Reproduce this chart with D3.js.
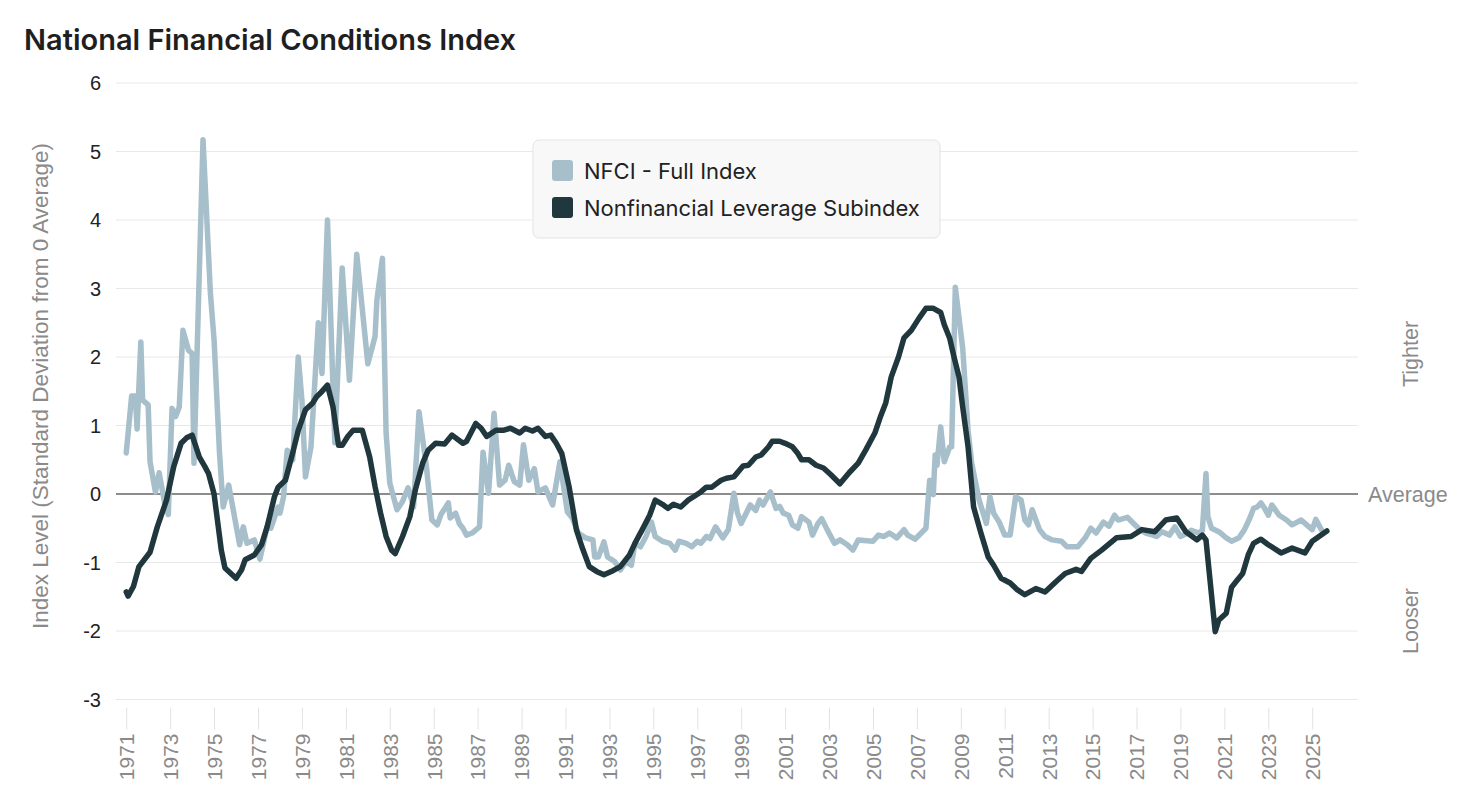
<!DOCTYPE html>
<html>
<head>
<meta charset="utf-8">
<script src="https://cdn.jsdelivr.net/npm/d3@7"></script>
<style>
  body { margin: 0; background: #fff; }
  svg { font-family: Inter, "Noto Sans", sans-serif; }
  .ax { font-family: "Liberation Sans", Arial, sans-serif; }
</style>
</head>
<body>
<svg id="chart" width="1474" height="806"></svg>
<script>
// NFCI - full index (month, value)
var nfciMonths = ["1971-01","1971-04","1971-06","1971-07","1971-09","1971-10","1972-01","1972-02","1972-05","1972-07","1972-10","1972-12",
  "1973-02","1973-04","1973-06","1973-08","1973-11","1974-01","1974-02","1974-07","1974-11","1975-01","1975-04","1975-06","1975-09",
  "1976-03","1976-05","1976-07","1976-11","1977-02","1977-06","1977-08","1977-12","1978-01","1978-03","1978-05","1978-08","1978-11",
  "1979-01","1979-03","1979-06","1979-10","1979-12","1980-03","1980-07","1980-11","1981-03","1981-07","1982-01","1982-05","1982-06",
  "1982-09","1982-11","1983-01","1983-05","1983-08","1983-11","1984-02","1984-05","1984-09","1984-12","1985-03","1985-05","1985-09",
  "1985-10","1986-01","1986-03","1986-05","1986-07","1986-10","1987-02","1987-04","1987-07","1987-10","1988-01","1988-04","1988-06",
  "1988-09","1988-12","1989-02","1989-05","1989-08","1989-10","1990-02","1990-06","1990-10","1991-02","1991-05","1991-08","1991-12",
  "1992-04","1992-05","1992-07","1992-10","1992-12","1993-04","1993-07","1993-10","1994-01","1994-03","1994-06","1994-09","1994-12",
  "1995-02","1995-06","1995-10","1996-01","1996-03","1996-07","1996-10","1997-01","1997-03","1997-06","1997-08","1997-11","1998-03",
  "1998-06","1998-09","1998-11","1999-01","1999-06","1999-09","1999-11","2000-01","2000-05","2000-08","2000-10","2000-12","2001-03",
  "2001-05","2001-08","2001-10","2002-02","2002-04","2002-07","2002-09","2002-12","2003-04","2003-07","2003-11","2004-02","2004-05",
  "2005-01","2005-04","2005-07","2005-10","2006-02","2006-06","2006-08","2006-12","2007-06","2007-08","2007-10","2007-11","2007-12",
  "2008-02","2008-04","2008-07","2008-08","2008-10","2009-02","2009-05","2009-07","2009-11","2010-03","2010-05","2010-07","2010-10",
  "2011-01","2011-04","2011-07","2011-10","2011-12","2012-02","2012-04","2012-08","2012-11","2013-03","2013-08","2013-11","2014-05",
  "2014-09","2014-12","2015-03","2015-07","2015-10","2016-01","2016-03","2016-08","2016-11","2017-02","2017-06","2017-10","2017-12",
  "2018-03","2018-07","2018-10","2019-01","2019-05","2019-07","2019-11","2020-01","2020-03","2020-04","2020-06","2020-10","2021-02",
  "2021-05","2021-09","2021-12","2022-03","2022-05","2022-07","2022-09","2022-11","2023-01","2023-03","2023-07","2023-11","2024-02",
  "2024-07","2024-10","2025-01","2025-03","2025-06"];
var nfciValues = [0.60,1.43,1.43,0.95,2.22,1.37,1.30,0.47,0.03,0.31,-0.13,-0.30,
  1.25,1.13,1.27,2.39,2.10,2.05,0.45,5.17,2.93,2.25,0.60,-0.19,0.13,
  -0.74,-0.48,-0.72,-0.67,-0.95,-0.48,-0.50,-0.19,-0.28,-0.04,0.64,0.50,2.00,
  1.37,0.25,0.69,2.50,1.76,4.00,0.75,3.30,1.66,3.50,1.90,2.30,2.83,
  3.44,0.89,0.16,-0.23,-0.11,0.09,-0.19,1.20,0.40,-0.38,-0.45,-0.30,-0.13,
  -0.35,-0.28,-0.43,-0.50,-0.60,-0.57,-0.48,0.61,0.01,1.18,0.13,0.20,0.42,
  0.18,0.13,0.72,0.20,0.37,0.03,0.09,-0.16,0.47,-0.26,-0.36,-0.57,-0.64,
  -0.67,-0.92,-0.92,-0.70,-0.92,-0.99,-1.11,-0.99,-1.04,-0.72,-0.77,-0.62,-0.41,
  -0.62,-0.69,-0.72,-0.82,-0.69,-0.72,-0.77,-0.69,-0.72,-0.62,-0.65,-0.48,-0.64,
  -0.52,0.01,-0.28,-0.43,-0.16,-0.24,-0.09,-0.16,0.03,-0.21,-0.18,-0.28,-0.31,
  -0.45,-0.50,-0.33,-0.41,-0.60,-0.43,-0.36,-0.52,-0.72,-0.67,-0.74,-0.82,-0.67,
  -0.69,-0.60,-0.62,-0.57,-0.64,-0.52,-0.60,-0.66,-0.50,0.20,-0.01,0.57,0.42,
  0.98,0.47,0.69,0.69,3.02,2.13,0.93,0.45,-0.09,-0.43,-0.04,-0.28,-0.41,
  -0.60,-0.60,-0.04,-0.09,-0.38,-0.45,-0.23,-0.52,-0.62,-0.67,-0.69,-0.77,-0.77,
  -0.64,-0.50,-0.57,-0.41,-0.47,-0.31,-0.38,-0.34,-0.42,-0.50,-0.57,-0.60,-0.62,
  -0.55,-0.60,-0.48,-0.62,-0.57,-0.53,-0.57,-0.53,0.30,-0.33,-0.50,-0.55,-0.64,
  -0.69,-0.64,-0.52,-0.35,-0.21,-0.19,-0.13,-0.21,-0.31,-0.16,-0.31,-0.38,-0.45,
  -0.38,-0.45,-0.52,-0.37,-0.52];

// Nonfinancial leverage subindex (month, value)
var levMonths = ["1971-01","1971-02","1971-05","1971-08","1972-02","1972-06","1972-11","1973-03","1973-07","1973-10","1974-01","1974-05",
  "1974-08","1974-10","1975-01","1975-05","1975-07","1976-01","1976-04","1976-06","1976-11","1977-03","1977-06","1977-10","1977-12",
  "1978-04","1978-08","1978-11","1979-03","1979-07","1979-09","1979-11","1980-03","1980-06","1980-09","1980-11","1981-02","1981-05",
  "1981-10","1982-02","1982-05","1982-08","1982-11","1983-02","1983-04","1983-08","1983-12","1984-03","1984-07","1984-10","1985-02",
  "1985-07","1985-11","1986-05","1986-07","1986-12","1987-03","1987-06","1987-11","1988-03","1988-07","1988-12","1989-03","1989-07",
  "1989-10","1990-02","1990-05","1990-08","1990-11","1991-03","1991-07","1991-10","1992-02","1992-06","1992-10","1993-03","1993-07",
  "1993-12","1994-03","1994-07","1994-11","1995-02","1995-06","1995-09","1995-12","1996-04","1996-08","1996-11","1997-03","1997-06",
  "1997-09","1998-02","1998-05","1998-09","1999-02","1999-05","1999-09","1999-12","2000-04","2000-06","2000-10","2001-01","2001-05",
  "2001-08","2001-10","2002-02","2002-06","2002-10","2003-02","2003-07","2003-12","2004-05","2004-09","2005-02","2005-05","2005-08",
  "2005-11","2006-03","2006-06","2006-10","2007-02","2007-06","2007-10","2008-02","2008-04","2008-07","2008-09","2008-12","2009-02",
  "2009-05","2009-08","2009-12","2010-04","2010-07","2010-11","2011-04","2011-08","2011-12","2012-06","2012-11","2013-05","2013-10",
  "2014-04","2014-07","2014-12","2015-06","2016-02","2016-10","2017-04","2017-11","2018-05","2018-11","2019-04","2019-10","2020-01",
  "2020-03","2020-08","2020-10","2021-02","2021-05","2021-08","2021-11","2022-02","2022-05","2022-09","2023-01","2023-08","2024-02",
  "2024-09","2025-01","2025-09"];
var levValues = [-1.43,-1.49,-1.35,-1.06,-0.85,-0.48,-0.09,0.40,0.74,0.82,0.86,0.54,
  0.40,0.30,0.00,-0.82,-1.08,-1.23,-1.11,-0.96,-0.89,-0.74,-0.48,-0.04,0.10,
  0.20,0.60,0.93,1.23,1.33,1.42,1.47,1.59,1.27,0.71,0.71,0.84,0.93,
  0.93,0.54,0.11,-0.28,-0.62,-0.82,-0.87,-0.62,-0.33,0.06,0.45,0.64,0.74,
  0.73,0.86,0.74,0.77,1.03,0.96,0.84,0.93,0.93,0.96,0.89,0.96,0.92,
  0.96,0.84,0.86,0.74,0.59,0.11,-0.52,-0.77,-1.06,-1.13,-1.18,-1.12,-1.06,
  -0.89,-0.72,-0.52,-0.31,-0.09,-0.15,-0.21,-0.15,-0.19,-0.09,-0.04,0.03,0.10,
  0.10,0.20,0.23,0.25,0.41,0.42,0.54,0.57,0.69,0.77,0.77,0.74,0.69,
  0.59,0.50,0.50,0.42,0.38,0.28,0.15,0.31,0.45,0.64,0.89,1.12,1.33,
  1.71,2.00,2.28,2.39,2.56,2.71,2.71,2.65,2.47,2.27,2.03,1.71,1.27,
  0.69,-0.19,-0.57,-0.92,-1.04,-1.23,-1.30,-1.40,-1.47,-1.38,-1.43,-1.28,-1.16,
  -1.10,-1.13,-0.94,-0.82,-0.64,-0.62,-0.52,-0.55,-0.38,-0.35,-0.55,-0.67,-0.60,
  -0.67,-2.01,-1.84,-1.74,-1.36,-1.26,-1.16,-0.89,-0.72,-0.66,-0.74,-0.86,-0.79,
  -0.86,-0.69,-0.54];

var yTicks = [-3, -2, -1, 0, 1, 2, 3, 4, 5, 6];
var yearTicks = d3.range(1971, 2026, 2);
var seriesNames = ["NFCI - Full Index", "Nonfinancial Leverage Subindex"];
var seriesColors = ["#a7bfca", "#20373e"];

var plotLeft = 116, plotRight = 1358, plotTop = 83, plotBottom = 699.5;
var parse = d3.timeParse("%Y-%m");

var svg = d3.select("#chart");

var x = d3.scaleTime()
  .domain([new Date(1970, 6, 15), new Date(2027, 1, 1)])
  .range([plotLeft, plotRight]);
var y = d3.scaleLinear().domain([-3, 6]).range([plotBottom, plotTop]);

// title
svg.append("text")
  .attr("x", 24).attr("y", 50)
  .attr("font-size", 29).attr("font-weight", 600)
  .attr("fill", "#1f1f1f")
  .text("National Financial Conditions Index");

// grid
svg.append("g").selectAll("line")
  .data(yTicks.filter(function(d) { return d !== 0; }))
  .enter().append("line")
  .attr("x1", plotLeft).attr("x2", plotRight)
  .attr("y1", function(d) { return y(d); })
  .attr("y2", function(d) { return y(d); })
  .attr("stroke", "#e8e8e8").attr("stroke-width", 1);

// y axis labels
svg.append("g").attr("class", "ax").selectAll("text")
  .data(yTicks).enter().append("text")
  .attr("x", 101).attr("y", function(d) { return y(d); })
  .attr("dy", "0.35em")
  .attr("text-anchor", "end")
  .attr("font-size", 20).attr("fill", "#222")
  .text(function(d) { return d; });

svg.append("text").attr("class", "ax")
  .attr("transform", "translate(40,386) rotate(-90)")
  .attr("text-anchor", "middle").attr("dy", "0.35em")
  .attr("font-size", 22.5).attr("fill", "#8a8a8a")
  .text("Index Level (Standard Deviation from 0 Average)");

// x axis
var xAxis = d3.axisBottom(x)
  .tickValues(yearTicks.map(function(yr) { return new Date(yr, 0, 1); }))
  .tickFormat(d3.timeFormat("%Y"))
  .tickSize(22).tickPadding(6);
var gx = svg.append("g").attr("transform", "translate(0," + (plotBottom + 8) + ")").call(xAxis);
gx.select(".domain").remove();
gx.selectAll(".tick line").attr("stroke", "#e2e2e2");
gx.selectAll(".tick text")
  .attr("font-family", "'Liberation Sans', Arial, sans-serif")
  .attr("font-size", 21).attr("fill", "#8a8a8a")
  .attr("transform", "rotate(-90)")
  .attr("text-anchor", "end")
  .attr("x", -26).attr("y", 0).attr("dy", "0.35em");

// zero line
svg.append("line")
  .attr("x1", plotLeft).attr("x2", plotRight)
  .attr("y1", y(0)).attr("y2", y(0))
  .attr("stroke", "#8c8c8c").attr("stroke-width", 2);

// right side labels
var side = svg.append("g").attr("class", "ax").attr("font-size", 21.5).attr("fill", "#8a8a8a");
side.append("text")
  .attr("x", 1368).attr("y", y(0)).attr("dy", "0.35em")
  .text("Average");
side.append("text")
  .attr("transform", "translate(1410," + (y(2) - 3) + ") rotate(-90)")
  .attr("text-anchor", "middle").attr("dy", "0.35em")
  .text("Tighter");
side.append("text")
  .attr("transform", "translate(1410," + (y(-2) - 10) + ") rotate(-90)")
  .attr("text-anchor", "middle").attr("dy", "0.35em")
  .text("Looser");

// lines
var line = d3.line()
  .x(function(d) { return x(d.date); })
  .y(function(d) { return y(d.value); });

var nfci = nfciMonths.map(function(m, i) { return {date: parse(m), value: nfciValues[i]}; });
var lev = levMonths.map(function(m, i) { return {date: parse(m), value: levValues[i]}; });

[nfci, lev].forEach(function(s, i) {
  svg.append("path")
    .datum(s)
    .attr("d", line)
    .attr("fill", "none")
    .attr("stroke", seriesColors[i])
    .attr("stroke-width", 5.5)
    .attr("stroke-linejoin", "round")
    .attr("stroke-linecap", "round");
});

// legend
var lg = svg.append("g").attr("transform", "translate(533,140)");
lg.append("rect")
  .attr("width", 407).attr("height", 98).attr("rx", 6)
  .attr("fill", "#f8f8f8").attr("stroke", "#e3e3e3");
seriesNames.forEach(function(name, i) {
  lg.append("rect")
    .attr("x", 19).attr("y", 20 + i * 37)
    .attr("width", 21).attr("height", 21).attr("rx", 3)
    .attr("fill", seriesColors[i]);
  lg.append("text")
    .attr("x", 51).attr("y", 31 + i * 37).attr("dy", "0.35em")
    .attr("font-size", 22).attr("fill", "#222")
    .text(name);
});
</script>
</body>
</html>
